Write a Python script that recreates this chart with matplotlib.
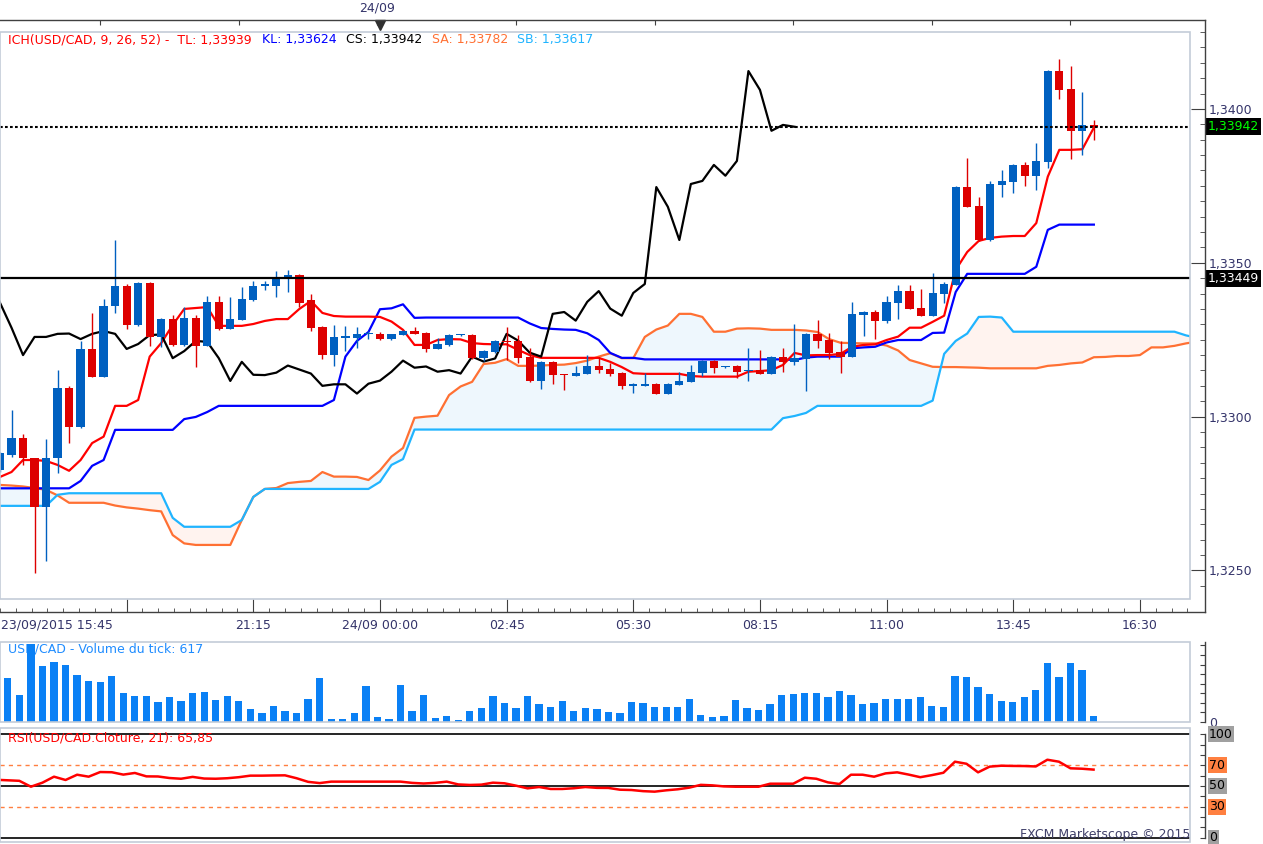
"""
plot.py

USD/CAD 15 min chart with Ichimoku cloud, tick volume and RSI(21),
redrawn after an FXCM Marketscope screenshot.
"""

import numpy as np
import matplotlib
matplotlib.use("Agg")
import matplotlib.pyplot as plt
from matplotlib.lines import Line2D
from matplotlib.patches import Rectangle
from matplotlib.ticker import MultipleLocator, FuncFormatter
from matplotlib.transforms import blended_transform_factory as blend


# ============================================================
# Data (bar -1 is cut by the left edge, bar 32 = 24/09 00:00)
# ============================================================
opens = [
    1.32827,                                                                  # -1
    1.32875, 1.32930, 1.32865, 1.32705, 1.32865, 1.33093, 1.32967, 1.33220, 1.33130, 1.33358,  # 0-9
    1.33425, 1.33299, 1.33434, 1.33260, 1.33317, 1.33233, 1.33320, 1.33231, 1.33373, 1.33286,  # 10-19
    1.33315, 1.33380, 1.33426, 1.33426, 1.33450, 1.33460, 1.33379, 1.33291, 1.33200, 1.33257,  # 20-29
    1.33257, 1.33267, 1.33269, 1.33252, 1.33266, 1.33278, 1.33272, 1.33220, 1.33233, 1.33264,  # 30-39
    1.33265, 1.33190, 1.33210, 1.33246, 1.33246, 1.33194, 1.33116, 1.33178, 1.33138, 1.33133,  # 40-49
    1.33140, 1.33166, 1.33156, 1.33143, 1.33100, 1.33100, 1.33107, 1.33075, 1.33104, 1.33114,  # 50-59
    1.33143, 1.33182, 1.33160, 1.33166, 1.33148, 1.33153, 1.33140, 1.33195, 1.33179, 1.33186,  # 60-69
    1.33269, 1.33250, 1.33211, 1.33195, 1.33330, 1.33340, 1.33312, 1.33370, 1.33408, 1.33353,  # 70-79
    1.33328, 1.33399, 1.33429, 1.33746, 1.33684, 1.33574, 1.33754, 1.33763, 1.33818, 1.33783,  # 80-89
    1.33829, 1.34123, 1.34065, 1.33929, 1.33948,                                # 90-94
]
highs = [
    1.32885,
    1.33022, 1.32944, 1.32866, 1.32926, 1.33151, 1.33099, 1.33246, 1.33338, 1.33382, 1.33574,
    1.33431, 1.33437, 1.33436, 1.33320, 1.33330, 1.33356, 1.33330, 1.33392, 1.33392, 1.33389,
    1.33421, 1.33442, 1.33442, 1.33473, 1.33477, 1.33462, 1.33399, 1.33294, 1.33298, 1.33295,
    1.33291, 1.33278, 1.33276, 1.33270, 1.33280, 1.33291, 1.33274, 1.33256, 1.33267, 1.33269,
    1.33268, 1.33215, 1.33249, 1.33291, 1.33265, 1.33223, 1.33180, 1.33180, 1.33139, 1.33166,
    1.33201, 1.33195, 1.33175, 1.33145, 1.33110, 1.33143, 1.33110, 1.33110, 1.33146, 1.33169,
    1.33184, 1.33184, 1.33166, 1.33168, 1.33224, 1.33218, 1.33197, 1.33224, 1.33301, 1.33271,
    1.33314, 1.33273, 1.33247, 1.33374, 1.33342, 1.33347, 1.33392, 1.33428, 1.33428, 1.33415,
    1.33467, 1.33438, 1.33748, 1.33840, 1.33714, 1.33766, 1.33801, 1.33820, 1.33828, 1.33889,
    1.34127, 1.34162, 1.34140, 1.34055, 1.33964,
]
lows = [
    1.32820,
    1.32869, 1.32843, 1.32491, 1.32532, 1.32816, 1.32915, 1.32964, 1.33128, 1.33128, 1.33336,
    1.33286, 1.33295, 1.33230, 1.33225, 1.33230, 1.33230, 1.33160, 1.33228, 1.33282, 1.33284,
    1.33313, 1.33377, 1.33412, 1.33388, 1.33406, 1.33357, 1.33278, 1.33188, 1.33166, 1.33214,
    1.33224, 1.33252, 1.33250, 1.33250, 1.33264, 1.33268, 1.33210, 1.33219, 1.33229, 1.33262,
    1.33187, 1.33181, 1.33208, 1.33184, 1.33174, 1.33114, 1.33090, 1.33107, 1.33088, 1.33132,
    1.33138, 1.33143, 1.33133, 1.33091, 1.33078, 1.33099, 1.33072, 1.33072, 1.33103, 1.33113,
    1.33133, 1.33143, 1.33157, 1.33127, 1.33117, 1.33138, 1.33138, 1.33146, 1.33169, 1.33084,
    1.33224, 1.33188, 1.33143, 1.33193, 1.33263, 1.33253, 1.33305, 1.33318, 1.33349, 1.33326,
    1.33326, 1.33370, 1.33427, 1.33680, 1.33572, 1.33572, 1.33715, 1.33728, 1.33750, 1.33737,
    1.33809, 1.34033, 1.33838, 1.33851, 1.33900,
]
closes = [
    1.32882,
    1.32930, 1.32865, 1.32705, 1.32865, 1.33093, 1.32967, 1.33220, 1.33130, 1.33360, 1.33425,
    1.33299, 1.33434, 1.33260, 1.33317, 1.33233, 1.33320, 1.33231, 1.33373, 1.33286, 1.33317,
    1.33382, 1.33425, 1.33430, 1.33453, 1.33460, 1.33370, 1.33289, 1.33200, 1.33259, 1.33259,
    1.33269, 1.33270, 1.33252, 1.33269, 1.33278, 1.33269, 1.33220, 1.33236, 1.33265, 1.33267,
    1.33190, 1.33213, 1.33246, 1.33243, 1.33190, 1.33116, 1.33178, 1.33136, 1.33135, 1.33143,
    1.33166, 1.33153, 1.33140, 1.33100, 1.33105, 1.33105, 1.33075, 1.33107, 1.33117, 1.33146,
    1.33182, 1.33159, 1.33163, 1.33146, 1.33151, 1.33140, 1.33195, 1.33179, 1.33189, 1.33269,
    1.33247, 1.33208, 1.33195, 1.33334, 1.33340, 1.33312, 1.33373, 1.33408, 1.33351, 1.33328,
    1.33402, 1.33431, 1.33746, 1.33682, 1.33574, 1.33756, 1.33766, 1.33818, 1.33783, 1.33831,
    1.34123, 1.34062, 1.33929, 1.33948, 1.33942,
]

# Ichimoku: Tenkan (TL) and Kijun (KL), bars -1..94
tenkan = [
    1.32804,
    1.32820, 1.32859, 1.32859, 1.32856, 1.32843, 1.32824, 1.32859, 1.32914, 1.32935, 1.33035,
    1.33035, 1.33054, 1.33195, 1.33239, 1.33298, 1.33350, 1.33353, 1.33356, 1.33295, 1.33295,
    1.33295, 1.33301, 1.33311, 1.33317, 1.33317, 1.33350, 1.33376, 1.33337, 1.33327, 1.33325,
    1.33325, 1.33325, 1.33324, 1.33309, 1.33282, 1.33233, 1.33233, 1.33249, 1.33252, 1.33251,
    1.33239, 1.33236, 1.33235, 1.33235, 1.33217, 1.33200, 1.33191, 1.33191, 1.33191, 1.33191,
    1.33191, 1.33191, 1.33178, 1.33161, 1.33141, 1.33139, 1.33139, 1.33139, 1.33139, 1.33132,
    1.33130, 1.33130, 1.33130, 1.33130, 1.33146, 1.33148, 1.33151, 1.33168, 1.33207, 1.33199,
    1.33200, 1.33200, 1.33204, 1.33227, 1.33233, 1.33235, 1.33249, 1.33260, 1.33289, 1.33289,
    1.33308, 1.33328, 1.33477, 1.33535, 1.33571, 1.33581, 1.33585, 1.33587, 1.33587, 1.33629,
    1.33780, 1.33867, 1.33867, 1.33869, 1.33939,
]
kijun = (
    [1.32767] * 7 + [1.32791, 1.32840, 1.32859] + [1.32957] * 6
    + [1.32992, 1.32999, 1.33015] + [1.33035] * 10
    + [1.33054, 1.33195, 1.33246, 1.33275, 1.33349, 1.33352, 1.33365, 1.33321]
    + [1.33322] * 9
    + [1.33303, 1.33288, 1.33285, 1.33283, 1.33282, 1.33271, 1.33249, 1.33207, 1.33191, 1.33191]
    + [1.33186] * 13 + [1.33184, 1.33192] + [1.33195] * 3
    + [1.33222, 1.33225, 1.33227, 1.33241] + [1.33249] * 3
    + [1.33272, 1.33273, 1.33405] + [1.33464] * 6 + [1.33487, 1.33607] + [1.33624] * 4
)

# Senkou spans (already shifted 26 bars ahead), bars -1..103
senkou_a = [
    1.32778,
    1.32776, 1.32773, 1.32768, 1.32762, 1.32744, 1.32720, 1.32720, 1.32720, 1.32720, 1.32711,
    1.32705, 1.32701, 1.32696, 1.32692, 1.32615, 1.32588, 1.32583, 1.32583, 1.32583, 1.32583,
    1.32664, 1.32739, 1.32765, 1.32768, 1.32784, 1.32788, 1.32791, 1.32820, 1.32805, 1.32805,
    1.32804, 1.32794, 1.32825, 1.32870, 1.32898, 1.32996, 1.33000, 1.33003, 1.33070, 1.33098,
    1.33113, 1.33171, 1.33175, 1.33187, 1.33165, 1.33165, 1.33166, 1.33168, 1.33169, 1.33174,
    1.33182, 1.33195, 1.33206, 1.33190, 1.33190, 1.33259, 1.33283, 1.33296, 1.33334, 1.33334,
    1.33324, 1.33276, 1.33276, 1.33286, 1.33287, 1.33286, 1.33282, 1.33282, 1.33282, 1.33280,
    1.33275, 1.33252, 1.33240, 1.33239, 1.33238, 1.33238, 1.33231, 1.33215, 1.33184, 1.33173,
    1.33162, 1.33161, 1.33161, 1.33160, 1.33159, 1.33157, 1.33157, 1.33157, 1.33157, 1.33157,
    1.33165, 1.33168, 1.33173, 1.33176, 1.33193, 1.33194, 1.33197, 1.33197, 1.33200, 1.33225,
    1.33225, 1.33230, 1.33238, 1.33244,
]
senkou_b = (
    [1.32710] * 5 + [1.32746] + [1.32751] * 9 + [1.32671] + [1.32642] * 5
    + [1.32664, 1.32739] + [1.32765] * 10 + [1.32788, 1.32843, 1.32862]
    + [1.32958] * 32 + [1.32995, 1.33002, 1.33012] + [1.33035] * 10
    + [1.33052, 1.33204, 1.33246, 1.33270, 1.33324, 1.33325, 1.33322]
    + [1.33276] * 15 + [1.33264, 1.33256]
)

# tick volume, bars 0..94
volumes = [
    4560, 2780, 8100, 5810, 6230, 5950, 4870, 4250, 4140, 4770,
    2990, 2680, 2680, 2050, 2575, 2160, 2990, 3100, 2260, 2680,
    2160, 1320, 905, 1635, 1115, 905, 2370, 4560, 280, 280,
    905, 3720, 490, 280, 3830, 1115, 2780, 380, 590, 175,
    1115, 1430, 2680, 1950, 1430, 2680, 1840, 1530, 2160, 1115,
    1430, 1320, 1010, 905, 2050, 1950, 1530, 1530, 1530, 2370,
    700, 490, 590, 2260, 1430, 1220, 1840, 2780, 2890, 2990,
    2990, 2575, 3200, 2780, 1840, 1950, 2370, 2370, 2370, 2575,
    1635, 1530, 4770, 4660, 3620, 2890, 2160, 2050, 2575, 3300,
    6125, 4660, 6125, 5390, 617,
]

# RSI(21), bars -1..94
rsi = [
    56.0,
    55.5, 55.0, 49.3, 53.2, 59.0, 55.8, 60.9, 59.0, 63.5, 63.3,
    61.0, 62.6, 59.3, 59.2, 57.7, 57.0, 58.8, 57.2, 57.0, 57.5,
    58.5, 60.0, 60.0, 60.2, 60.3, 57.5, 54.0, 52.8, 54.2, 54.2,
    54.2, 54.2, 54.2, 54.2, 54.2, 53.0, 52.4, 53.0, 54.2, 51.5,
    51.0, 51.3, 53.2, 52.6, 50.3, 47.7, 49.0, 47.1, 47.1, 47.8,
    49.0, 48.2, 48.1, 46.4, 46.1, 45.0, 44.5, 45.8, 46.8, 48.4,
    51.1, 50.6, 49.6, 49.3, 49.3, 49.3, 52.2, 52.2, 52.2, 58.0,
    57.0, 53.5, 51.9, 60.9, 60.9, 59.0, 62.2, 63.2, 61.0, 58.5,
    60.5, 62.8, 73.5, 71.5, 63.2, 68.7, 69.6, 69.4, 69.3, 68.9,
    75.4, 73.5, 67.1, 66.7, 65.85,
]

last_close = 1.33942
level_line = 1.33449
rsi_solid = [0, 50, 100]
rsi_dashed = [30, 70]

time_ticks = [10, 21, 32, 43, 54, 65, 76, 87, 98]
time_labels = ["", "21:15", "24/09 00:00", "02:45", "05:30", "08:15", "11:00", "13:45", "16:30"]
first_label = "23/09/2015 15:45"
day_ticks = [8, 20, 32, 44, 56, 68, 80, 92]
day_labels = ["", "", "24/09", "", "", "", "", ""]

legend_parts = [
    ("ICH(USD/CAD, 9, 26, 52) -  TL: 1,33939", "#ff0000", 8),
    ("KL: 1,33624", "#0000ff", 262),
    ("CS: 1,33942", "#000000", 346),
    ("SA: 1,33782", "#ff7033", 432),
    ("SB: 1,33617", "#20b4ff", 517),
]

# ============================================================
# Style
# ============================================================
W, H = 1263, 844
UP, DOWN = "#0060c0", "#dd0000"
BORDER = "#c3ccd8"
AXIS = "#404040"
LABEL = "#34346a"
FS = 9

plt.rcParams["font.family"] = ["DejaVu Sans"]


def rect(x0, y0, x1, y1):
    return [x0 / W, 1 - y1 / H, (x1 - x0) / W, (y1 - y0) / H]


def fig_line(fig, xs, ys, **kw):
    fig.add_artist(Line2D([x / W for x in xs], [1 - y / H for y in ys],
                          transform=fig.transFigure, **kw))


def frame(ax):
    for s in ax.spines.values():
        s.set_visible(False)
    ax.add_patch(Rectangle((0, 0), 1, 1, transform=ax.transAxes, fill=False,
                           ec=BORDER, lw=1.2, clip_on=False, zorder=10))


def price_fmt(v, pos):
    return f"{v:.4f}".replace(".", ",")


def tag_fmt(v):
    return f"{v:.5f}".replace(".", ",")


def main():
    bars = np.arange(-1, len(opens) - 1)
    cloud_x = np.arange(-1, len(senkou_a) - 1)
    vol_x = np.arange(0, len(volumes))
    o, h, l, c = map(np.array, (opens, highs, lows, closes))
    sa, sb = np.array(senkou_a), np.array(senkou_b)
    xlim = (-0.675, 102.35)

    fig = plt.figure(figsize=(W / 100, H / 100), dpi=100)

    # ---------------- price panel ----------------
    ax = fig.add_axes(rect(0, 32, 1190, 599))
    frame(ax)
    ax.fill_between(cloud_x, sa, sb, where=sa >= sb, interpolate=True,
                    color="#eef7fd", lw=0, zorder=1)
    ax.fill_between(cloud_x, sa, sb, where=sa < sb, interpolate=True,
                    color="#fff3ef", lw=0, zorder=1)
    ax.plot(cloud_x, sa, color="#ff7033", lw=1.6, zorder=2)
    ax.plot(cloud_x, sb, color="#20b4ff", lw=1.6, zorder=2.1)
    ax.plot(bars, kijun, color="#0000ff", lw=1.6, zorder=2.2)
    ax.plot(bars, tenkan, color="#ff0000", lw=1.6, zorder=2.3)
    ax.plot(bars - 26, c, color="#000000", lw=1.6, zorder=2.4)

    colors = np.where(c >= o, UP, DOWN)
    body_lo = np.minimum(o, c)
    body_h = np.maximum(np.abs(c - o), 0.00004)
    ax.vlines(bars, l, h, colors=colors, lw=1.0, zorder=3)
    ax.bar(bars, body_h, width=0.72, bottom=body_lo, color=colors, lw=0, zorder=3.5)

    ax.axhline(last_close, color="black", lw=1.5, ls=(0, (1.3, 1.1)), zorder=5)
    ax.axhline(level_line, color="black", lw=1.6, zorder=5)

    ax.set_xlim(*xlim)
    ax.set_ylim(1.324073, 1.34250)

    ax.spines["right"].set_position(("outward", 10.8))
    ax.spines["bottom"].set_position(("outward", 9.36))
    ax.yaxis.tick_right()
    ax.yaxis.set_major_locator(MultipleLocator(0.005))
    ax.yaxis.set_minor_locator(MultipleLocator(0.0005))
    ax.yaxis.set_major_formatter(FuncFormatter(price_fmt))
    ax.tick_params(axis="y", which="both", direction="in", color=AXIS,
                   labelcolor=LABEL, labelsize=FS, pad=3)
    ax.tick_params(axis="y", which="major", length=10)
    ax.tick_params(axis="y", which="minor", length=3.6)

    ax.set_xticks(time_ticks)
    ax.set_xticklabels(time_labels)
    ax.set_xticks(np.arange(-1, 103, 1.375), minor=True)
    ax.tick_params(axis="x", which="both", direction="in", color=AXIS,
                   labelcolor=LABEL, labelsize=FS, pad=5)
    ax.tick_params(axis="x", which="major", length=9.4)
    ax.tick_params(axis="x", which="minor", length=2.9)
    ax.text(0.001, 1 - 619 / H, first_label, transform=blend(ax.transAxes, fig.transFigure),
            ha="left", va="top", color=LABEL, fontsize=FS)

    # top date strip
    axt = ax.twiny()
    axt.set_xlim(*xlim)
    for s in axt.spines.values():
        s.set_visible(False)
    axt.spines["top"].set_position(("outward", 8.64))
    axt.set_xticks(day_ticks)
    axt.set_xticklabels(day_labels)
    axt.tick_params(axis="x", direction="in", length=3.6, color=AXIS,
                    labelcolor=LABEL, labelsize=FS, pad=4)
    fig.add_artist(Line2D([32], [1 - 24.5 / H], marker="v", ms=6.5, color="#303030",
                          ls="none", transform=blend(ax.transData, fig.transFigure)))

    # legend line of the indicator
    for text, col, x in legend_parts:
        fig.text(x / W, 1 - 40 / H, text, color=col, fontsize=FS, va="center")

    # price tags on the right axis
    tag_tr = blend(ax.transAxes, ax.transData)
    for val, fg in ((last_close, "#00ff00"), (level_line, "#ffffff")):
        ax.text(1 + 18 / 1190, val, tag_fmt(val), transform=tag_tr,
                ha="left", va="center", color=fg, fontsize=FS, clip_on=False, zorder=20,
                bbox=dict(boxstyle="square,pad=0.15", fc="black", ec="none"))

    # ---------------- volume panel ----------------
    axv = fig.add_axes(rect(0, 642, 1190, 722))
    frame(axv)
    axv.bar(vol_x, volumes, width=0.63, color="#0a80f5", lw=0, zorder=2)
    axv.text(8 / 1190, 1 - 7 / 80, "USD/CAD - Volume du tick: 617", transform=axv.transAxes,
             color="#1e8cff", fontsize=FS, va="center", zorder=1)
    axv.set_xlim(*xlim)
    axv.set_ylim(0, 8350)
    axv.spines["right"].set_position(("outward", 10.8))
    axv.yaxis.tick_right()
    axv.yaxis.set_major_locator(MultipleLocator(1000))
    axv.yaxis.set_major_formatter(FuncFormatter(lambda v, p: "0" if v == 0 else ""))
    axv.tick_params(axis="y", direction="in", length=3.6, color=AXIS,
                    labelcolor=LABEL, labelsize=FS, pad=3)
    axv.tick_params(axis="x", bottom=False, labelbottom=False)

    # ---------------- RSI panel ----------------
    axr = fig.add_axes(rect(0, 728, 1190, 842))
    frame(axr)
    for lv in rsi_solid:
        axr.axhline(lv, color="black", lw=1.2, zorder=2)
    for lv in rsi_dashed:
        axr.axhline(lv, color="#ff7f40", lw=1.0, ls=(0, (3, 3)), zorder=2)
    axr.plot(bars, rsi, color="#ff0000", lw=1.8, zorder=3)
    axr.set_xlim(*xlim)
    axr.set_ylim(-4.2, 106.1)
    axr.text(8 / 1190, 96.6, "RSI(USD/CAD.Cloture, 21): 65,85",
             transform=blend(axr.transAxes, axr.transData),
             color="#ff0000", fontsize=FS, va="center", zorder=4)
    axr.text(1.0, 2.6, "FXCM Marketscope © 2015", transform=blend(axr.transAxes, axr.transData),
             color="#40406a", fontsize=FS, ha="right", va="center", zorder=4)
    axr.spines["right"].set_position(("outward", 10.8))
    axr.yaxis.tick_right()
    axr.set_yticks(np.arange(0, 101, 10))
    axr.tick_params(axis="y", direction="in", length=3.6, color=AXIS, labelright=False)
    axr.tick_params(axis="x", bottom=False, labelbottom=False)
    rsi_tr = blend(axr.transAxes, axr.transData)
    for lv in sorted(rsi_solid + rsi_dashed):
        bg = "#ff8040" if lv in rsi_dashed else "#a0a0a0"
        axr.text(1 + 19 / 1190, lv, str(lv), transform=rsi_tr, ha="left", va="center",
                 color="black", fontsize=FS, clip_on=False, zorder=20,
                 bbox=dict(boxstyle="square,pad=0.12", fc=bg, ec="none"))

    # dark axis lines (time strips and right price scale)
    kw = dict(color=AXIS, lw=1.0)
    fig_line(fig, [0, 1205], [20, 20], **kw)
    fig_line(fig, [0, 1205], [612, 612], **kw)
    fig_line(fig, [1205, 1205], [20, 612], **kw)
    fig_line(fig, [1205, 1205], [642, 722], **kw)
    fig_line(fig, [1205, 1205], [734, 838], **kw)

    fig.savefig("out.png", dpi=100, facecolor="white")


if __name__ == "__main__":
    main()
